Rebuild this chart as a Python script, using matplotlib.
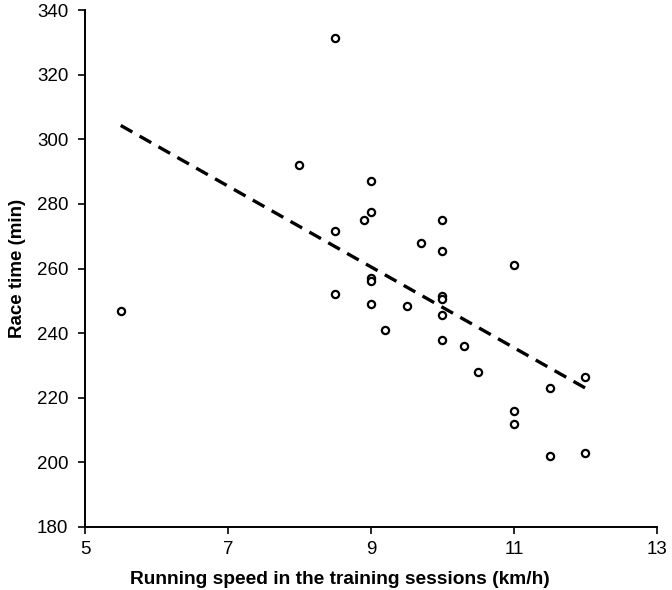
import matplotlib
matplotlib.use("Agg")
import matplotlib.pyplot as plt

plt.rcParams["font.family"] = ["Liberation Sans", "DejaVu Sans"]

# Running speed (km/h) vs race time (min)
speed = [5.5, 8.0, 8.5, 8.5, 8.5, 8.9, 9.0, 9.0, 9.0, 9.0, 9.0, 9.2, 9.5, 9.7,
         10.0, 10.0, 10.0, 10.0, 10.0, 10.0, 10.3, 10.5, 11.0, 11.0, 11.0,
         11.5, 11.5, 12.0, 12.0]
race_time = [247, 292, 331.5, 271.5, 252, 275, 287, 277.5, 257, 256, 249, 241,
             248.5, 268, 275, 265.5, 251.5, 250.5, 245.5, 238, 236, 228, 261,
             216, 212, 223, 202, 226.5, 203]

# regression line end points
trend_x = [5.5, 12.0]
trend_y = [304.3, 223.0]

xticks = [5, 7, 9, 11, 13]
yticks = [180, 200, 220, 240, 260, 280, 300, 320, 340]

fig = plt.figure(figsize=(6.72, 5.90), dpi=100)
ax = fig.add_axes([0.1265, 0.1068, 0.851, 0.876])

ax.plot(trend_x, trend_y, color="black", linewidth=2.4, linestyle=(0, (4, 2.5)),
        zorder=2)
ax.plot(speed, race_time, linestyle="none", marker="o", markersize=5.2,
        markerfacecolor="white", markeredgecolor="black", markeredgewidth=1.6,
        zorder=3)

ax.set_xlim(5, 13)
ax.set_ylim(180, 340)
ax.set_xticks(xticks)
ax.set_yticks(yticks)
ax.tick_params(direction="out", length=5, width=1.2, labelsize=13.5)
ax.tick_params(axis="y", pad=7)
ax.tick_params(axis="x", pad=5)

for side in ["top", "right"]:
    ax.spines[side].set_visible(False)
for side in ["left", "bottom"]:
    ax.spines[side].set_linewidth(1.4)

ax.set_xlabel("Running speed in the training sessions (km/h)", fontsize=13.8,
              fontweight="bold")
ax.xaxis.set_label_coords(0.446, -0.085)
ax.set_ylabel("Race time (min)", fontsize=13.5, fontweight="bold", labelpad=7.5)

fig.savefig("out.png", dpi=100)
